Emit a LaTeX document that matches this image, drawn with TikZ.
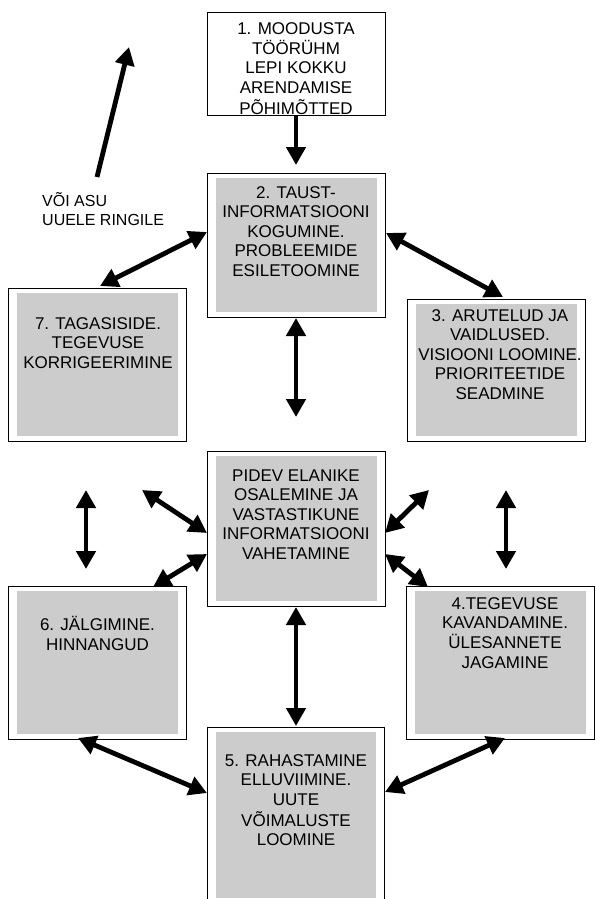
\documentclass[tikz,border=0pt]{standalone}
\usepackage{fontspec}
\setmainfont{Liberation Sans}
\usetikzlibrary{arrows.meta}
\definecolor{boxgray}{RGB}{204,204,204}
\newcommand\boxlines[1]{\begin{tabular}{@{}c@{}}#1\end{tabular}}
\begin{document}
\begin{tikzpicture}[x=1pt,y=-1pt,
  outerbox/.style={draw=black, line width=0.9pt, fill=white, inner sep=0pt, rectangle},
  boxtext/.style={font=\fontsize{17}{19.5}\selectfont, anchor=north, inner sep=0pt},
  dbl/.style={line width=4.8pt, {Triangle[length=18pt,width=19pt]}-{Triangle[length=18pt,width=19pt]}},
  sgl/.style={line width=4.8pt, -{Triangle[length=18pt,width=19pt]}}]
\useasboundingbox (0,0) rectangle (595,899);
% outer boxes
\node[outerbox, minimum width=178pt, minimum height=103pt] (b1) at (296,63.5) {};
\node[outerbox, minimum width=178pt, minimum height=144pt] (b2) at (296,245) {};
\node[outerbox, minimum width=178pt, minimum height=153pt] (b7) at (97,364.5) {};
\node[outerbox, minimum width=178pt, minimum height=142pt] (b3) at (496,370) {};
\node[outerbox, minimum width=178pt, minimum height=155pt] (bc) at (296,528.5) {};
\node[outerbox, minimum width=178pt, minimum height=153pt] (b6) at (97,662.5) {};
\node[outerbox, minimum width=188pt, minimum height=153pt] (b4) at (500,662.5) {};
\node[outerbox, minimum width=177pt, minimum height=176pt] (b5) at (295.5,815) {};
% gray insets
\foreach \b in {b2,b7,b3,bc,b6,b4,b5}
  \fill[boxgray] ([xshift=9pt,yshift=-5pt]\b.north west) rectangle ([xshift=-8pt,yshift=5pt]\b.south east);
% texts
\node[boxtext] (t1) at (296,20.5) {\boxlines{1. MOODUSTA\\TÖÖRÜHM\\LEPI KOKKU\\ARENDAMISE\\PÕHIMÕTTED}};
\node[boxtext] (t2) at (296,184.5) {\boxlines{2. TAUST-\\INFORMATSIOONI\\KOGUMINE.\\PROBLEEMIDE\\ESILETOOMINE}};
\node[boxtext] (t7) at (98,315.5) {\boxlines{7. TAGASISIDE.\\TEGEVUSE\\KORRIGEERIMINE}};
\node[boxtext] (t3) at (500,307.5) {\boxlines{3. ARUTELUD JA\\VAIDLUSED.\\VISIOONI LOOMINE.\\PRIORITEETIDE\\SEADMINE}};
\node[boxtext] (tc) at (296,467.5) {\boxlines{PIDEV ELANIKE\\OSALEMINE JA\\VASTASTIKUNE\\INFORMATSIOONI\\VAHETAMINE}};
\node[boxtext] (t6) at (97.5,616.5) {\boxlines{6. JÄLGIMINE.\\HINNANGUD}};
\node[boxtext] (t4) at (505,595.5) {\boxlines{4.TEGEVUSE\\KAVANDAMINE.\\ÜLESANNETE\\JAGAMINE}};
\node[boxtext] (t5) at (296,752.5) {\boxlines{5. RAHASTAMINE\\ELLUVIIMINE.\\UUTE\\VÕIMALUSTE\\LOOMINE}};
\node[font=\fontsize{16}{19}\selectfont, anchor=north west, inner sep=0pt] (tr) at (42,192) {\begin{tabular}{@{}l@{}}VÕI ASU\\UUELE RINGILE\end{tabular}};
% arrow end coordinates
\coordinate (a1e) at (296,165);
\coordinate (a2a) at (207,232); \coordinate (a2b) at (100,286);
\coordinate (a3a) at (386,233); \coordinate (a3b) at (503,297);
\coordinate (a4a) at (296,318); \coordinate (a4b) at (296,417);
\coordinate (a5a) at (97,177); \coordinate (a5b) at (129,47);
\coordinate (a6a) at (86,490); \coordinate (a6b) at (86,569);
\coordinate (a7a) at (142,490); \coordinate (a7b) at (207,533);
\coordinate (a8a) at (207,554); \coordinate (a8b) at (153,587);
\coordinate (a9a) at (385,533); \coordinate (a9b) at (429,490);
\coordinate (a10a) at (385,554); \coordinate (a10b) at (428,587);
\coordinate (a11a) at (506,490); \coordinate (a11b) at (506,569);
\coordinate (a12a) at (296,607); \coordinate (a12b) at (296,726);
\coordinate (a13a) at (78,738); \coordinate (a13b) at (207,793);
\coordinate (a14a) at (385,792); \coordinate (a14b) at (505,738);
% arrows
\draw[sgl] (b1.south) -- (a1e);
\draw[dbl] (a2a) -- (a2b);
\draw[dbl] (a3a) -- (a3b);
\draw[dbl] (a4a) -- (a4b);
\draw[sgl] (a5a) -- (a5b);
\draw[dbl] (a6a) -- (a6b);
\draw[dbl] (a7a) -- (a7b);
\draw[dbl] (a8a) -- (a8b);
\draw[dbl] (a9a) -- (a9b);
\draw[dbl] (a10a) -- (a10b);
\draw[dbl] (a11a) -- (a11b);
\draw[dbl] (a12a) -- (a12b);
\draw[dbl] (a13a) -- (a13b);
\draw[dbl] (a14a) -- (a14b);
\end{tikzpicture}
\end{document}
